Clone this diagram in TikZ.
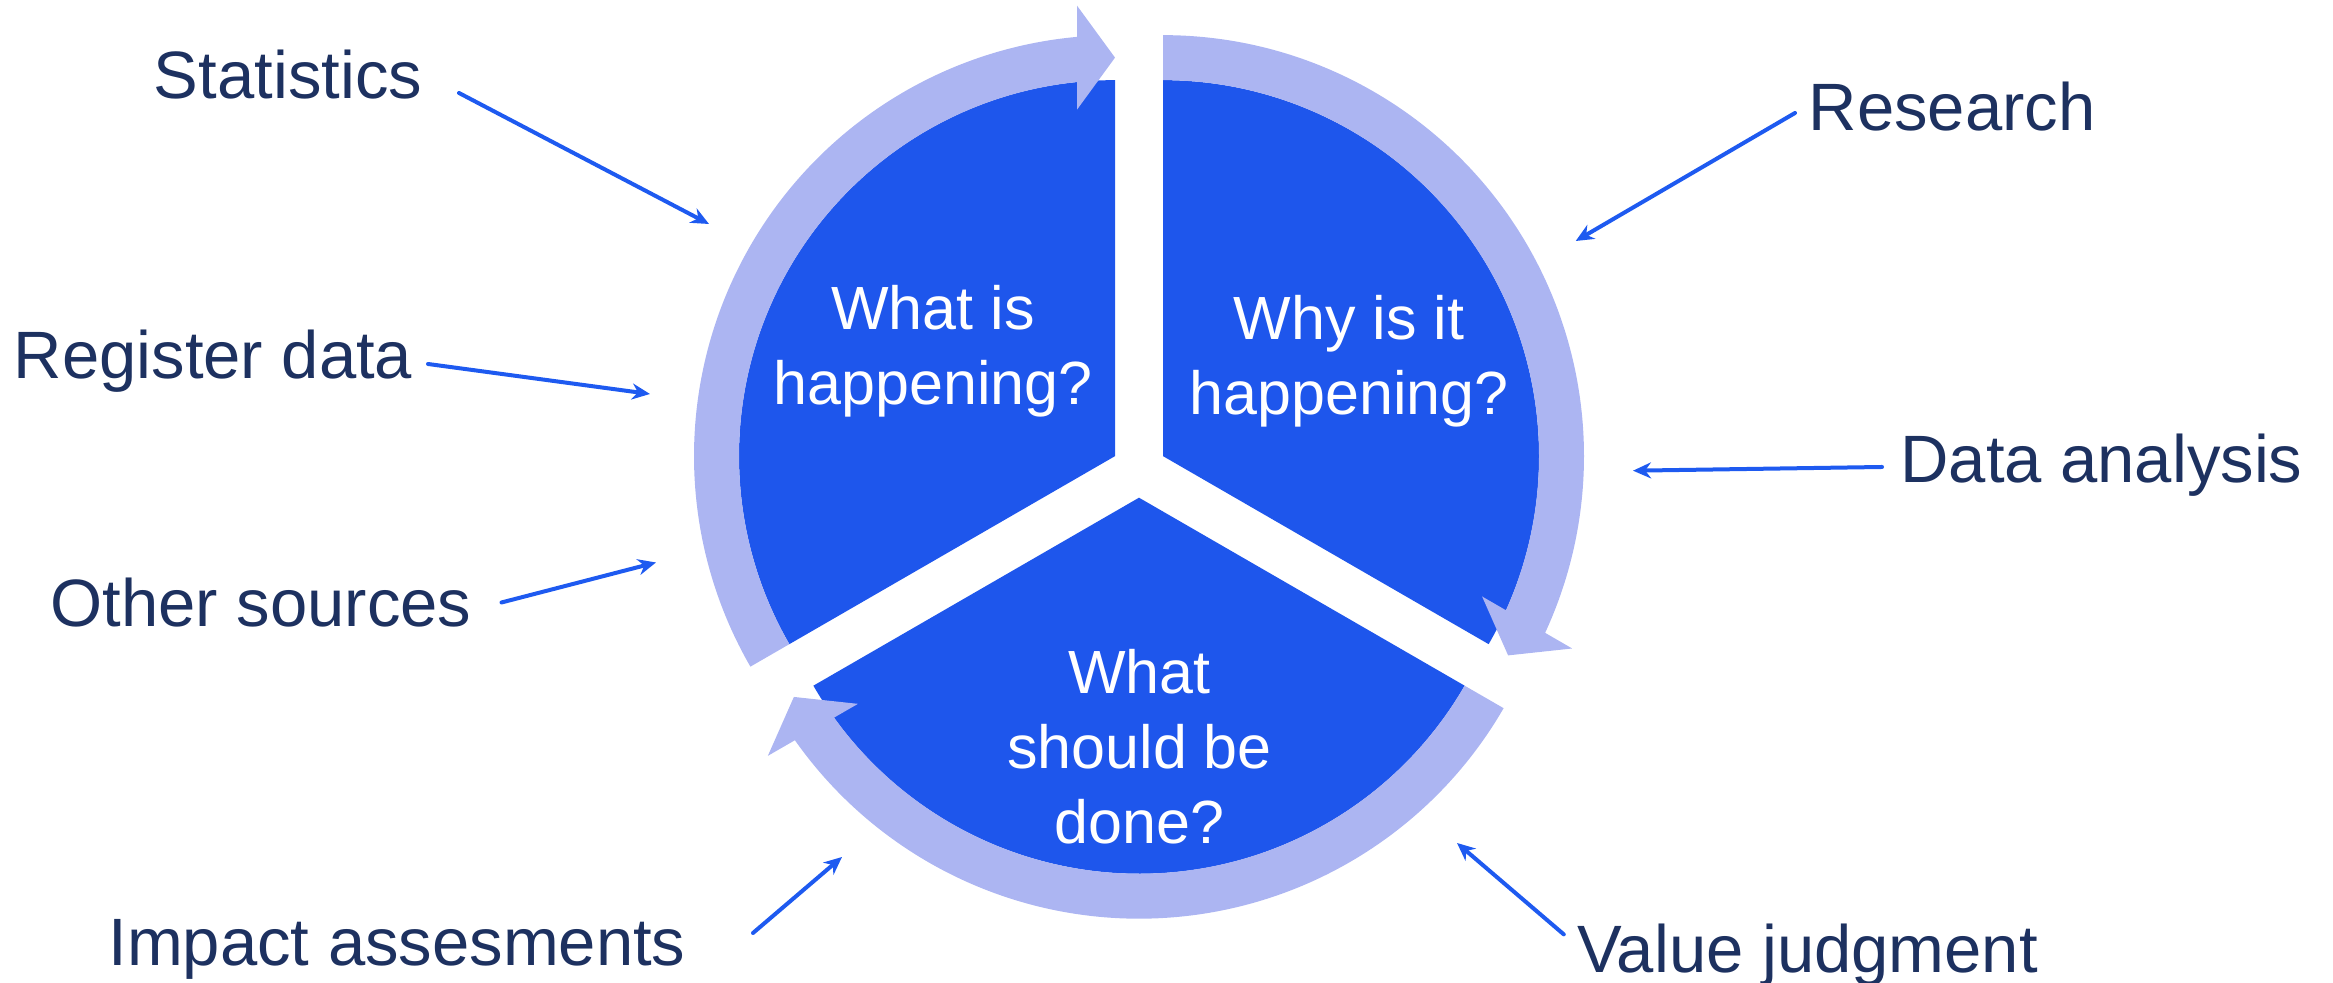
\documentclass[tikz,border=0pt]{standalone}
\usepackage{fontspec}
\setmainfont{Liberation Sans}
\usetikzlibrary{calc,arrows.meta}
\definecolor{darkb}{RGB}{30,86,236}
\definecolor{lightb}{RGB}{172,181,242}
\definecolor{navy}{RGB}{29,49,96}
\definecolor{conn}{RGB}{30,90,240}
\begin{document}
\begin{tikzpicture}[x=0.5pt,y=0.5pt,
  sector/.style={fill=darkb},
  band/.style={fill=lightb},
  lbl/.style={text=navy,font=\fontsize{33.5}{40}\selectfont,anchor=base,inner sep=0pt},
  qtext/.style={text=white,font=\fontsize{30.5}{37.5}\selectfont,align=center,inner sep=0pt},
  feed/.style={draw=conn,line width=2pt,line cap=round,-{Stealth[length=9pt,width=8pt]}}]
\useasboundingbox (0,0) rectangle (2333,983);
\def\rin{376}\def\rout{421}\def\rmid{398.5}\def\hl{38}\def\hw{52}
\def\dout{5.18}\def\din{5.80}
\coordinate (A) at (1115,526.85);
\coordinate (B) at (1163,526.85);
\coordinate (C) at (1139,485.3);
% sectors
\fill[sector] (A) -- ($(A)+(90:\rin)$) arc[start angle=90,end angle=210,radius=\rin] -- cycle;
\fill[sector] (B) -- ($(B)+(-30:\rin)$) arc[start angle=-30,end angle=90,radius=\rin] -- cycle;
\fill[sector] (C) -- ($(C)+(210:\rin)$) arc[start angle=210,end angle=330,radius=\rin] -- cycle;
% curved arrows (clockwise, tip at angle t, head aligned with tangent)
\fill[band] ($(A)+(210:\rout)$) arc[start angle=210,end angle=90+\dout,radius=\rout]
  -- ($(A)+(90:\rmid)+(180:\hl)+(90:\hw)$) -- ($(A)+(90:\rmid)$) -- ($(A)+(90:\rmid)+(180:\hl)+(-90:\hw)$)
  -- ($(A)+(90+\din:\rin)$) arc[start angle=90+\din,end angle=210,radius=\rin] -- cycle;
\fill[band] ($(B)+(90:\rout)$) arc[start angle=90,end angle=-30+\dout,radius=\rout]
  -- ($(B)+(-30:\rmid)+(60:\hl)+(-30:\hw)$) -- ($(B)+(-30:\rmid)$) -- ($(B)+(-30:\rmid)+(60:\hl)+(150:\hw)$)
  -- ($(B)+(-30+\din:\rin)$) arc[start angle=-30+\din,end angle=90,radius=\rin] -- cycle;
\fill[band] ($(C)+(-30:\rout)$) arc[start angle=-30,end angle=-150+\dout,radius=\rout]
  -- ($(C)+(-150:\rmid)+(-60:\hl)+(-150:\hw)$) -- ($(C)+(-150:\rmid)$) -- ($(C)+(-150:\rmid)+(-60:\hl)+(30:\hw)$)
  -- ($(C)+(-150+\din:\rin)$) arc[start angle=-150+\din,end angle=-30,radius=\rin] -- cycle;
% questions
\node[qtext] (q1) at (933,630.5) {\strut What is\\happening?\strut};
\node[qtext] (q2) at (1349,620.5) {\strut Why is it\\happening?\strut};
\node[qtext] (q3) at (1139.5,229.2) {\strut What\\should be\\done?\strut};
% labels
\node[lbl] (stat) at (288,884) {Statistics};
\node[lbl] (reg) at (213,604) {Register data};
\node[lbl] (oth) at (261,356) {Other sources};
\node[lbl] (imp) at (397,17.5) {Impact assesments};
\node[lbl] (res) at (1952,852) {Research};
\node[lbl] (dat) at (2101.5,500) {Data analysis};
\node[lbl] (val) at (1807.5,10.3) {Value judgment};
% connector ends
\coordinate (statS) at (459,890);   \coordinate (statT) at (709,759);
\coordinate (regS) at (428,619);    \coordinate (regT) at (650,589);
\coordinate (othS) at (501.5,380.5);\coordinate (othT) at (656,420.5);
\coordinate (impS) at (753,50);     \coordinate (impT) at (842,126);
\coordinate (resS) at (1795,870);   \coordinate (resT) at (1575.7,742);
\coordinate (datS) at (1882,516);   \coordinate (datT) at (1633,512.3);
\coordinate (valS) at (1563.8,48.6);\coordinate (valT) at (1457,140);
\draw[feed] (statS) -- (statT);
\draw[feed] (regS) -- (regT);
\draw[feed] (othS) -- (othT);
\draw[feed] (impS) -- (impT);
\draw[feed] (resS) -- (resT);
\draw[feed] (datS) -- (datT);
\draw[feed] (valS) -- (valT);
\end{tikzpicture}
\end{document}
